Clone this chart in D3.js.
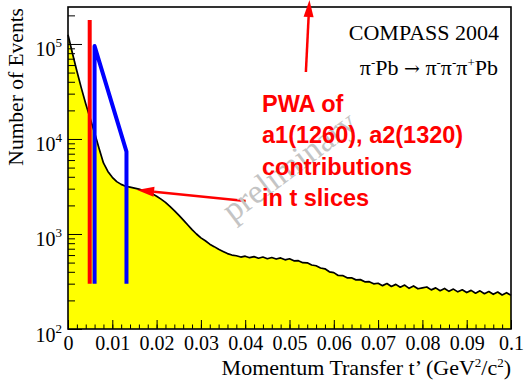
<!DOCTYPE html>
<html>
<head>
<meta charset="utf-8">
<script src="https://cdn.jsdelivr.net/npm/d3@7"></script>
<style>
  body { margin: 0; background: #fff; }
  svg { display: block; }
  .serif { font-family: "Liberation Serif", "Times New Roman", serif; }
</style>
</head>
<body>
<svg id="chart" width="526" height="382"></svg>
<script>
// t' bin centres (GeV^2/c^2) and counts
const tValues = [
  0.000, 0.001, 0.002, 0.003, 0.004, 0.005, 0.006, 0.007, 0.008, 0.009,
  0.010, 0.011, 0.012, 0.013, 0.014, 0.015, 0.016, 0.017, 0.018, 0.019,
  0.020, 0.021, 0.022, 0.023, 0.024, 0.025, 0.026, 0.027, 0.028, 0.029,
  0.030, 0.031, 0.032, 0.033, 0.034, 0.035, 0.036, 0.037, 0.038, 0.039,
  0.040, 0.041, 0.042, 0.043, 0.044, 0.045, 0.046, 0.047, 0.048, 0.049,
  0.050, 0.051, 0.052, 0.053, 0.054, 0.055, 0.056, 0.057, 0.058, 0.059,
  0.060, 0.061, 0.062, 0.063, 0.064, 0.065, 0.066, 0.067, 0.068, 0.069,
  0.070, 0.071, 0.072, 0.073, 0.074, 0.075, 0.076, 0.077, 0.078, 0.079,
  0.080, 0.081, 0.082, 0.083, 0.084, 0.085, 0.086, 0.087, 0.088, 0.089,
  0.090, 0.091, 0.092, 0.093, 0.094, 0.095, 0.096, 0.097, 0.098, 0.099,
  0.100
];
const counts = [
  125000, 80000, 52000, 34500, 23500, 16500, 11600, 8000, 5600, 4550,
  3950, 3560, 3330, 3180, 3110, 3040, 2970, 2870, 2790, 2660,
  2500, 2330, 2150, 1950, 1760, 1580, 1410, 1250, 1110, 1000,
  910, 848, 782, 736, 690, 655, 622, 600, 590, 572,
  584, 563, 578, 556, 572, 549, 565, 545, 560, 535,
  549, 522, 524, 499, 497, 472, 463, 439, 430, 400,
  392, 366, 365, 346, 346, 329, 331, 314, 315, 299,
  303, 286, 301, 280, 295, 275, 290, 268, 284, 265,
  271, 277, 258, 271, 253, 267, 249, 263, 246, 259,
  242, 255, 238, 252, 235, 248, 232, 245, 228, 241,
  226
];

// annotation lines (t', counts)
const redSlice = [[0.0049, 300], [0.0049, 179000]];
const blueSlice = [[0.0060, 300], [0.0060, 95000], [0.0132, 7350], [0.0132, 300]];
const arrowToShoulder = [[0.0401, 2220], [0.0156, 2900]];
const arrowToTop = [[0.0537, 50700], [0.0545, 290000]];

const xTickValues = [0, 0.01, 0.02, 0.03, 0.04, 0.05, 0.06, 0.07, 0.08, 0.09, 0.1];
const yTickValues = [100, 1000, 10000, 100000];
const yExponents = ["2", "3", "4", "5"];
const noteLines = ["PWA of", "a1(1260), a2(1320)", "contributions", "in t slices"];

const margin = {left: 68, top: 7, right: 15, bottom: 53};
const width = 526 - margin.left - margin.right;
const height = 382 - margin.top - margin.bottom;

const svg = d3.select("#chart");
const g = svg.append("g")
  .attr("transform", "translate(" + margin.left + "," + margin.top + ")");

const x = d3.scaleLinear().domain([0, 0.1]).range([0, width]);
const y = d3.scaleLog().domain([100, 245000]).range([height, 0]);

const data = tValues.map((t, i) => [t, counts[i]]);

// filled histogram
g.append("path")
  .datum(data)
  .attr("fill", "#ffff00")
  .attr("d", d3.area().x(d => x(d[0])).y0(height).y1(d => y(d[1])));

g.append("path")
  .datum(data)
  .attr("fill", "none")
  .attr("stroke", "#000")
  .attr("stroke-width", 1.7)
  .attr("stroke-linejoin", "round")
  .attr("d", d3.line().x(d => x(d[0])).y(d => y(d[1])));

// minor x ticks every 0.002
const xMinor = d3.range(0, 51).map(i => i * 0.002);
g.append("g")
  .attr("transform", "translate(0," + height + ")")
  .call(d3.axisBottom(x).tickValues(xMinor).tickSize(-4.5).tickFormat(""))
  .call(a => a.select(".domain").remove());

// major x ticks and labels
const xAxis = g.append("g")
  .attr("transform", "translate(0," + height + ")")
  .call(d3.axisBottom(x).tickValues(xTickValues).tickSize(-9).tickPadding(7)
    .tickFormat(d => d3.format("~g")(d)))
  .call(a => a.select(".domain").remove());
xAxis.selectAll("text")
  .attr("class", "serif")
  .style("font-size", "20px")
  .attr("fill", "#000");

// minor y ticks
const yMinor = [];
[100, 1000, 10000, 100000].forEach(dec => {
  for (let k = 2; k <= 9; k++) if (dec * k <= 245000) yMinor.push(dec * k);
});
g.append("g")
  .call(d3.axisLeft(y).tickValues(yMinor).tickSize(-7).tickFormat(""))
  .call(a => a.select(".domain").remove());

const yAxis = g.append("g")
  .call(d3.axisLeft(y).tickValues(yTickValues).tickSize(-14).tickFormat(""))
  .call(a => a.select(".domain").remove());
yAxis.selectAll(".tick").each(function(d, i) {
  const t = d3.select(this).select("text")
    .attr("class", "serif")
    .attr("x", -6)
    .attr("dy", null)
    .attr("y", 12)
    .attr("text-anchor", "end")
    .attr("fill", "#000")
    .style("font-size", "20px");
  t.append("tspan").text("10");
  t.append("tspan").attr("dy", -9).style("font-size", "13px").text(yExponents[i]);
});
g.selectAll(".tick line").attr("stroke", "#000");

// frame
g.append("rect")
  .attr("width", width).attr("height", height)
  .attr("fill", "none").attr("stroke", "#000").attr("stroke-width", 1.6);

// slices
const line = d3.line().x(d => x(d[0])).y(d => y(d[1]));
g.append("path").datum(redSlice)
  .attr("d", line).attr("fill", "none").attr("stroke", "#ff0000").attr("stroke-width", 4);
g.append("path").datum(blueSlice)
  .attr("d", line).attr("fill", "none").attr("stroke", "#0000ff").attr("stroke-width", 4)
  .attr("stroke-linejoin", "round");

// watermark
svg.append("text")
  .attr("class", "serif")
  .attr("transform", "translate(296,175) rotate(-37)")
  .attr("text-anchor", "middle")
  .attr("fill", "#c4c4c4")
  .style("font-size", "34px")
  .text("preliminary");

// arrows
function arrow(pts) {
  const p0 = [x(pts[0][0]), y(pts[0][1])];
  const p1 = [x(pts[1][0]), y(pts[1][1])];
  const ang = Math.atan2(p1[1] - p0[1], p1[0] - p0[0]);
  const len = 17, half = 5;
  const bx = p1[0] - len * Math.cos(ang), by = p1[1] - len * Math.sin(ang);
  g.append("line")
    .attr("x1", p0[0]).attr("y1", p0[1]).attr("x2", bx).attr("y2", by)
    .attr("stroke", "#ff0000").attr("stroke-width", 2.5);
  g.append("path")
    .attr("d", d3.line()([
      p1,
      [bx + half * Math.sin(ang), by - half * Math.cos(ang)],
      [bx - half * Math.sin(ang), by + half * Math.cos(ang)]
    ]) + "Z")
    .attr("fill", "#ff0000");
}
arrow(arrowToShoulder);
arrow(arrowToTop);

// red note
const noteY = [111.5, 143, 174.5, 206];
svg.append("g").selectAll("text")
  .data(noteLines)
  .join("text")
  .attr("x", 262)
  .attr("y", (d, i) => noteY[i])
  .attr("fill", "#ff0000")
  .style("font-family", "'Liberation Sans', Arial, sans-serif")
  .style("font-weight", "bold")
  .style("font-size", "23.5px")
  .text(d => d);

// experiment label
svg.append("text")
  .attr("class", "serif")
  .attr("x", 499).attr("y", 40)
  .attr("text-anchor", "end")
  .style("font-size", "22px")
  .text("COMPASS 2004");

const react = svg.append("text")
  .attr("class", "serif")
  .attr("x", 498).attr("y", 75)
  .attr("text-anchor", "end")
  .style("font-size", "22px");
// [text, raised, font override]
const parts = [["π", 0], ["-", 1], ["Pb ", 0], ["→", 0, "DejaVu Serif"], [" π", 0], ["-", 1], ["π", 0], ["-", 1], ["π", 0], ["+", 1], ["Pb", 0]];
let raised = false;
parts.forEach(p => {
  const ts = react.append("tspan").text(p[0]);
  if (p[2]) ts.style("font-family", p[2]).style("font-size", "19px");
  if (p[1] && !raised) { ts.attr("dy", -8).style("font-size", "13px"); raised = true; }
  else if (!p[1] && raised) { ts.attr("dy", 8); raised = false; }
  else if (p[1]) ts.style("font-size", "13px");
});

// axis titles
svg.append("text")
  .attr("class", "serif")
  .attr("transform", "translate(23,8) rotate(-90)")
  .attr("text-anchor", "end")
  .style("font-size", "21.5px")
  .text("Number of Events");

const xt = svg.append("text")
  .attr("class", "serif")
  .attr("x", 511).attr("y", 375)
  .attr("text-anchor", "end")
  .style("font-size", "22px");
xt.append("tspan").text("Momentum Transfer t’ (GeV");
xt.append("tspan").attr("dy", -8).style("font-size", "13px").text("2");
xt.append("tspan").attr("dy", 8).text("/c");
xt.append("tspan").attr("dy", -8).style("font-size", "13px").text("2");
xt.append("tspan").attr("dy", 8).text(")");
</script>
</body>
</html>
